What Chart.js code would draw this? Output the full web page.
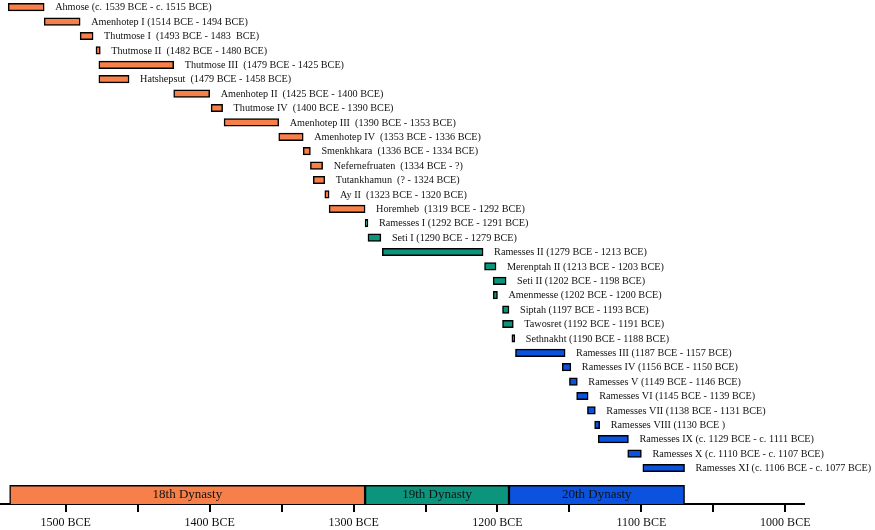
<!DOCTYPE html>
<html>
<head>
<meta charset="utf-8">
<script src="https://cdn.jsdelivr.net/npm/chart.js@4"></script>
<style>
  html, body { margin: 0; padding: 0; background: #fff; }
  #wrap { width: 875px; height: 530px; }
</style>
</head>
<body>
<div id="wrap"><canvas id="timeline"></canvas></div>
<script>
// Reigns (years BCE, as drawn on the chart)
const pharaohs = [
    'Ahmose', 'Amenhotep I', 'Thutmose I', 'Thutmose II', 'Thutmose III', 'Hatshepsut',
    'Amenhotep II', 'Thutmose IV', 'Amenhotep III', 'Amenhotep IV', 'Smenkhkara',
    'Nefernefruaten', 'Tutankhamun', 'Ay II', 'Horemheb',
    'Ramesses I', 'Seti I', 'Ramesses II', 'Merenptah II', 'Seti II', 'Amenmesse',
    'Siptah', 'Tawosret',
    'Sethnakht', 'Ramesses III', 'Ramesses IV', 'Ramesses V', 'Ramesses VI',
    'Ramesses VII', 'Ramesses VIII', 'Ramesses IX', 'Ramesses X', 'Ramesses XI'
];
const reignLabels = [
    'Ahmose (c. 1539 BCE - c. 1515 BCE)',
    'Amenhotep I (1514 BCE - 1494 BCE)',
    'Thutmose I  (1493 BCE - 1483  BCE)',
    'Thutmose II  (1482 BCE - 1480 BCE)',
    'Thutmose III  (1479 BCE - 1425 BCE)',
    'Hatshepsut  (1479 BCE - 1458 BCE)',
    'Amenhotep II  (1425 BCE - 1400 BCE)',
    'Thutmose IV  (1400 BCE - 1390 BCE)',
    'Amenhotep III  (1390 BCE - 1353 BCE)',
    'Amenhotep IV  (1353 BCE - 1336 BCE)',
    'Smenkhkara  (1336 BCE - 1334 BCE)',
    'Nefernefruaten  (1334 BCE - ?)',
    'Tutankhamun  (? - 1324 BCE)',
    'Ay II  (1323 BCE - 1320 BCE)',
    'Horemheb  (1319 BCE - 1292 BCE)',
    'Ramesses I (1292 BCE - 1291 BCE)',
    'Seti I (1290 BCE - 1279 BCE)',
    'Ramesses II (1279 BCE - 1213 BCE)',
    'Merenptah II (1213 BCE - 1203 BCE)',
    'Seti II (1202 BCE - 1198 BCE)',
    'Amenmesse (1202 BCE - 1200 BCE)',
    'Siptah (1197 BCE - 1193 BCE)',
    'Tawosret (1192 BCE - 1191 BCE)',
    'Sethnakht (1190 BCE - 1188 BCE)',
    'Ramesses III (1187 BCE - 1157 BCE)',
    'Ramesses IV (1156 BCE - 1150 BCE)',
    'Ramesses V (1149 BCE - 1146 BCE)',
    'Ramesses VI (1145 BCE - 1139 BCE)',
    'Ramesses VII (1138 BCE - 1131 BCE)',
    'Ramesses VIII (1130 BCE )',
    'Ramesses IX (c. 1129 BCE - c. 1111 BCE)',
    'Ramesses X (c. 1110 BCE - c. 1107 BCE)',
    'Ramesses XI (c. 1106 BCE - c. 1077 BCE)'
];
const reignStart = [1540, 1515, 1490, 1479, 1477, 1477, 1425, 1399, 1390, 1352, 1335,
    1330, 1328, 1320, 1317, 1292, 1290, 1280, 1209, 1203, 1203, 1196.5, 1196.5,
    1190, 1187.5, 1155, 1150, 1145, 1137.5, 1132.5, 1130, 1109.5, 1099];
const reignEnd = [1515, 1490, 1481, 1476, 1425, 1456, 1400, 1391, 1352, 1335, 1330,
    1321.5, 1320, 1317, 1292, 1290, 1281, 1210, 1201, 1194, 1200, 1192, 1189,
    1188, 1153, 1149, 1144.5, 1137, 1132, 1129, 1109, 1100, 1070];
const reignDynasty = [0, 0, 0, 0, 0, 0, 0, 0, 0, 0, 0, 0, 0, 0, 0,
    1, 1, 1, 1, 1, 1, 1, 1,
    2, 2, 2, 2, 2, 2, 2, 2, 2, 2];

const dynasties = ['18th Dynasty', '19th Dynasty', '20th Dynasty'];
const dynastyStart = [1539, 1292, 1192];
const dynastyEnd = [1292, 1192, 1070];

const axisMin = 1545;
const axisMax = 987;

const dynastyColors = ['#f7804a', '#0c957d', '#0b52df'];
const DYN_ROW = 'dynasties';

const labelPlugin = {
    id: 'barLabels',
    afterDatasetsDraw(chart) {
        const ctx = chart.ctx;
        ctx.save();
        ctx.fillStyle = '#111';
        ctx.textBaseline = 'middle';

        // reign labels to the right of each bar
        ctx.font = '10.2px "Liberation Serif", serif';
        ctx.textAlign = 'left';
        chart.getDatasetMeta(0).data.forEach((bar, i) => {
            const right = Math.max(bar.x, bar.base);
            ctx.fillText(reignLabels[i], right + 11, bar.y + 0.5);
        });

        // dynasty names centred in the bottom bars
        ctx.font = '13px "Liberation Serif", serif';
        ctx.textAlign = 'center';
        const bottom = chart.chartArea.bottom;
        chart.getDatasetMeta(1).data.forEach((bar, i) => {
            const top = bar.y - bar.height / 2;
            const bot = Math.min(bar.y + bar.height / 2, bottom);
            ctx.fillText(dynasties[i], (bar.x + bar.base) / 2, (top + bot) / 2);
        });
        ctx.restore();
    }
};

const ctx = document.getElementById('timeline').getContext('2d');
const timeline = new Chart(ctx, {
    type: 'bar',
    data: {
        labels: pharaohs.concat(['', DYN_ROW]),
        datasets: [{
            label: 'Reigns',
            data: reignStart.map((s, i) => [-s, -reignEnd[i]]),
            backgroundColor: reignDynasty.map(d => dynastyColors[d]),
            borderColor: '#000',
            borderWidth: 1.5,
            borderSkipped: false,
            barThickness: 7.5,
            grouped: false
        }, {
            label: 'Dynasties',
            data: dynastyStart.map((s, i) => ({ x: [-s, -dynastyEnd[i]], y: DYN_ROW })),
            backgroundColor: dynastyColors,
            borderColor: '#000',
            borderWidth: 1.5,
            borderSkipped: false,
            barThickness: 23,
            grouped: false,
            clip: { left: false, top: false, right: false, bottom: 0 }
        }]
    },
    options: {
        indexAxis: 'y',
        responsive: true,
        maintainAspectRatio: false,
        animation: false,
        layout: { padding: { left: 1, right: 71, top: 0, bottom: 0 } },
        scales: {
            y: {
                type: 'category',
                display: false,
                offset: true
            },
            x: {
                type: 'linear',
                position: 'bottom',
                min: -axisMin,
                max: -axisMax,
                z: 1,
                border: { color: '#000', width: 2 },
                grid: {
                    drawOnChartArea: false,
                    drawTicks: true,
                    tickLength: 8,
                    color: '#000',
                    lineWidth: 2
                },
                ticks: {
                    stepSize: 50,
                    includeBounds: false,
                    autoSkip: false,
                    maxRotation: 0,
                    padding: 4,
                    color: '#111',
                    font: { family: '"Liberation Serif", serif', size: 12 },
                    callback: v => (v % 100 === 0 ? (-v) + ' BCE' : '')
                },
                afterFit(scale) { scale.height = 26; }
            }
        },
        plugins: {
            legend: { display: false },
            tooltip: { enabled: false }
        }
    },
    plugins: [labelPlugin]
});
</script>
</body>
</html>
